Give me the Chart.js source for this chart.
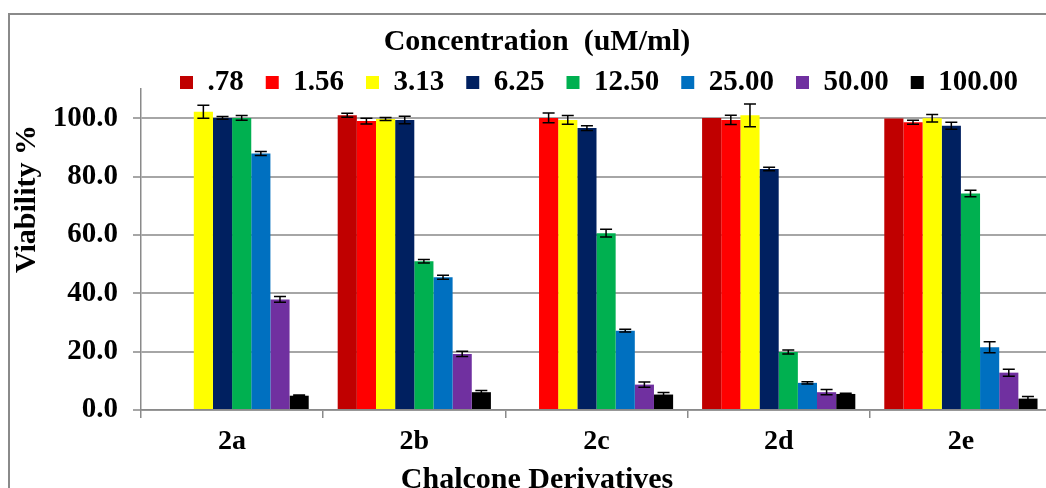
<!DOCTYPE html>
<html>
<head>
<meta charset="utf-8">
<script src="https://cdn.jsdelivr.net/npm/chart.js@4.4.1/dist/chart.umd.min.js"></script>
<style>
  html, body { margin: 0; padding: 0; background: #fff; overflow: hidden; }
  #wrap { position: relative; width: 1074px; height: 498px; }
  #frame {
    position: absolute; left: 8px; top: 13px; width: 1200px; height: 600px;
    border-left: 2px solid #8a8a8a; border-top: 2px solid #8a8a8a;
    pointer-events: none;
  }
</style>
</head>
<body>
<div id="wrap">
  <canvas id="chart" width="1074" height="498"></canvas>
  <div id="frame"></div>
</div>
<script>
// ------------------------------------------------------
// DATA
// ------------------------------------------------------
const categories = ["2a", "2b", "2c", "2d", "2e"];
const concLabels = [".78", "1.56", "3.13", "6.25", "12.50", "25.00", "50.00", "100.00"];
const concColors = ["#C00000", "#FF0000", "#FFFF00", "#002060", "#00B050", "#0070C0", "#7030A0", "#000000"];

const v078 = [null, 101.0, null, 100.1, 99.9];
const v156 = [null, 99.0, 100.1, 99.4, 98.6];
const v313 = [102.2, 99.7, 99.4, 101.0, 100.0];
const v625 = [100.1, 99.4, 96.6, 82.6, 97.4];
const v1250 = [100.1, 51.0, 60.6, 19.9, 74.2];
const v2500 = [87.9, 45.5, 27.2, 9.3, 21.5];
const v5000 = [37.9, 19.2, 8.7, 6.1, 12.8];
const v10000 = [4.9, 6.1, 5.3, 5.5, 3.9];

const e078 = [0, 0.7, 0, 0, 0];
const e156 = [0, 1.0, 1.7, 1.6, 0.7];
const e313 = [2.2, 0.5, 1.5, 3.9, 1.3];
const e625 = [0.5, 1.3, 0.8, 0.6, 1.2];
const e1250 = [0.8, 0.6, 1.3, 0.7, 1.1];
const e2500 = [0.7, 0.7, 0.5, 0.4, 1.9];
const e5000 = [1.0, 0.9, 0.9, 0.9, 1.2];
const e10000 = [0.2, 0.6, 0.7, 0.2, 0.7];

const seriesValues = [v078, v156, v313, v625, v1250, v2500, v5000, v10000];
const seriesErrors = [e078, e156, e313, e625, e1250, e2500, e5000, e10000];

const yTicks = [0, 20, 40, 60, 80, 100];

// ------------------------------------------------------
// Defaults
// ------------------------------------------------------
const SERIF = "'Liberation Serif','Times New Roman',serif";
Chart.defaults.font.family = SERIF;
Chart.defaults.font.weight = "bold";
Chart.defaults.color = "#000";

// ------------------------------------------------------
// Plugins
// ------------------------------------------------------
const errorBars = {
  id: "errorBars",
  afterDatasetsDraw(chart) {
    const ctx = chart.ctx;
    const y = chart.scales.y;
    ctx.save();
    ctx.strokeStyle = "#000";
    ctx.lineWidth = 1.5;
    chart.data.datasets.forEach(function (ds, i) {
      const meta = chart.getDatasetMeta(i);
      meta.data.forEach(function (bar, j) {
        const v = ds.data[j];
        const e = ds.errors[j];
        if (v == null || !e) return;
        const top = y.getPixelForValue(v + e);
        const bot = y.getPixelForValue(v - e);
        const x = bar.x;
        ctx.beginPath();
        ctx.moveTo(x, top); ctx.lineTo(x, bot);
        ctx.moveTo(x - 6, top); ctx.lineTo(x + 6, top);
        ctx.moveTo(x - 6, bot); ctx.lineTo(x + 6, bot);
        ctx.stroke();
      });
    });
    ctx.restore();
  }
};

// legend sits a bit right of centre and tucks close to the plot
const legendShift = {
  id: "legendShift",
  afterLayout(chart) {
    const lg = chart.legend;
    lg.left += 62; lg.right += 62;
    lg.top -= 14;
    lg.bottom = lg.top + 60; // keep the clip box big enough for the text
  }
};

const yTitle = {
  id: "yTitle",
  afterDraw(chart) {
    const ctx = chart.ctx;
    ctx.save();
    ctx.translate(27, 199);
    ctx.rotate(-Math.PI / 2);
    ctx.font = "bold 30px " + SERIF;
    ctx.fillStyle = "#000";
    ctx.textAlign = "center";
    ctx.textBaseline = "middle";
    ctx.fillText("Viability %", 0, 0);
    ctx.restore();
  }
};

// ------------------------------------------------------
// Chart
// ------------------------------------------------------
const datasets = concLabels.map(function (lab, i) {
  return {
    label: lab,
    data: seriesValues[i],
    errors: seriesErrors[i],
    backgroundColor: concColors[i],
    borderWidth: 0,
    categoryPercentage: 0.841,
    barPercentage: 1.0
  };
});

new Chart(document.getElementById("chart"), {
  type: "bar",
  data: { labels: categories, datasets: datasets },
  plugins: [errorBars, legendShift, yTitle],
  options: {
    responsive: false,
    animation: false,
    devicePixelRatio: 1,
    layout: { padding: 0 },
    plugins: {
      title: {
        display: true,
        text: "Concentration  (uM/ml)",
        font: { size: 30, weight: "bold" },
        color: "#000",
        padding: { top: 24, bottom: 0 }
      },
      legend: {
        display: true,
        maxHeight: 29,
        labels: {
          boxWidth: 13,
          boxHeight: 13,
          padding: 22,
          font: { size: 29, weight: "bold" },
          color: "#000"
        }
      },
      subtitle: {
        display: true,
        position: "bottom",
        text: "Chalcone Derivatives",
        font: { size: 30, weight: "bold" },
        color: "#000",
        padding: { top: 0, bottom: 0 }
      },
      tooltip: { enabled: false }
    },
    scales: {
      x: {
        grid: {
          drawOnChartArea: false,
          drawTicks: true,
          tickLength: 8,
          color: "#8a8a8a",
          lineWidth: 1.5
        },
        border: { display: true, color: "#8a8a8a", width: 1.5 },
        ticks: { padding: 7, font: { size: 28, weight: "bold" }, color: "#000" },
        afterFit(s) { s.height = 52; }
      },
      y: {
        min: 0,
        max: 110,
        afterBuildTicks(s) {
          s.ticks = yTicks.map(function (v) { return { value: v }; });
        },
        grid: { color: "#a6a6a6", lineWidth: 2, tickLength: 8 },
        border: { display: true, color: "#8a8a8a", width: 1.5 },
        ticks: {
          padding: 15,
          font: { size: 29, weight: "bold" },
          color: "#000",
          callback: function (v) { return Number(v).toFixed(1); }
        },
        afterFit(s) { s.width = 141; }
      },
      y2: {
        position: "right",
        display: true,
        grid: { display: false },
        border: { display: false },
        ticks: { display: false },
        afterFit(s) { s.width = 22; }
      }
    }
  }
});
</script>
</body>
</html>
